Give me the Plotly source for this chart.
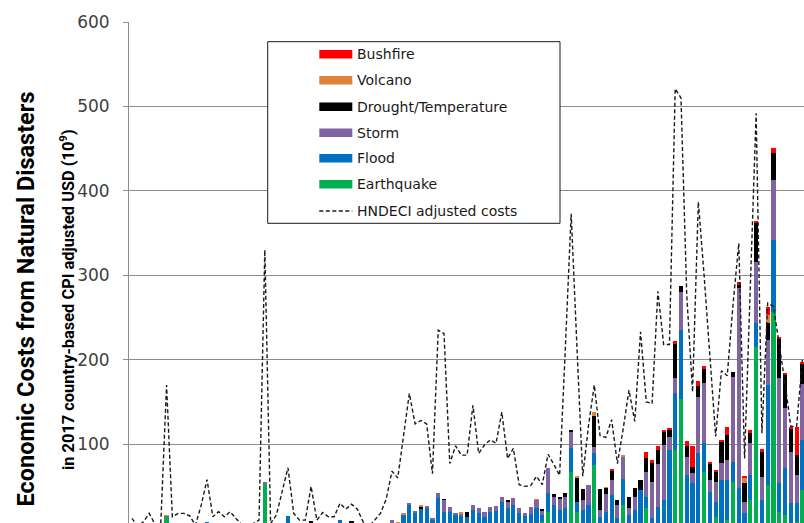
import plotly.graph_objects as go

# ---------------- data (1900-2016) ----------------
years = list(range(1900, 2017))

earthquake = [
    0, 0, 0, 0, 0, 3, 14, 2, 5, 0,            # 1900s
    0, 0, 0, 0, 0, 0, 0, 0, 0, 0,             # 1910s
    4, 0, 0, 53, 0, 0, 0, 0, 0, 0,            # 1920s
    0, 0, 0, 0, 0, 0, 0, 0, 0, 0,             # 1930s
    0, 0, 0, 0, 0, 0, 0, 0, 6, 0,             # 1940s
    0, 0, 0, 0, 0, 0, 0, 0, 0, 0,             # 1950s
    1, 0, 0, 0, 5, 0, 0, 0, 0, 0,             # 1960s
    0, 8, 20, 0, 0, 0, 67, 20, 0, 0,          # 1970s
    75, 0, 0, 0, 0, 28, 0, 0, 3, 24,          # 1980s
    0, 0, 0, 0, 93, 153, 0, 0, 0, 67.5,       # 1990s
    0, 14, 0, 10, 55.7, 0, 0, 34, 215.6, 4,   # 2000s
    52, 257, 20, 16, 0, 8, 45.8,              # 2010-2016
]

flood = [
    2, 1, 0, 2, 1, 0, 0, 0, 0, 2,
    3, 3, 0, 8, 1, 3, 2, 2, 1, 1,
    0, 2, 1, 0, 1, 2, 3, 15, 2, 2,
    2, 4, 2, 3, 3, 4, 10, 3, 4, 3,
    2, 2, 3, 4, 3, 4, 4, 17, 22, 19,
    24, 25, 11, 36, 20, 20, 17, 16, 14, 22,
    18, 14, 20, 21, 26, 24, 28, 18, 15, 17,
    24, 8, 22, 28, 22, 24, 28, 12, 22, 28,
    15, 14, 20, 40, 12, 30.5, 16, 22, 43, 14,
    12, 25, 34, 93, 67, 82, 63.6, 53.8, 89, 33.5,
    43.8, 18, 57.7, 47.7, 23.7, 47.8, 18, 29.6, 27.7, 30,
    118, 85, 33.8, 55.5, 30, 22, 59,
]

storm = [
    1, 0, 0, 0, 0, 0, 1, 0, 0, 0,
    0, 0, 2, 0, 0, 0, 0, 0, 0, 0,
    0, 0, 0, 1.5, 0, 0, 0, 0, 0, 0,
    0, 0, 0, 0, 0, 0, 0, 0, 0, 0,
    0, 0, 0, 0, 2, 6, 2, 0, 2, 2,
    0, 1, 1, 6, 14, 6, 2, 2, 0, 6,
    5, 6, 6, 6, 7, 8, 8, 6, 4, 8,
    10, 5, 30, 9, 13, 13, 20, 0, 12, 24,
    7, 8, 21, 17.7, 16, 26.5, 8, 16, 0, 29.5,
    43.7, 52, 65, 16, 18, 45.7, 21.7, 11.8, 67, 71,
    13.9, 23.7, 19.7, 23.7, 100.6, 237, 14, 37.4, 73, 27.6,
    53.5, 71, 124, 71, 61, 33.6, 67,
]

drought = [
    0, 0, 0, 0, 0, 0, 0, 0, 0, 0,
    0, 0, 0, 0, 0, 0, 0, 0, 0, 0,
    0, 0, 0, 0, 0, 0, 0, 0, 0, 0,
    0, 4.5, 0, 0, 0, 0, 0, 0, 4.5, 0,
    0, 0, 0, 0, 0, 0, 0, 0, 0, 0,
    2, 0, 0, 0, 1, 0, 0, 0, 6, 0,
    0, 0, 0, 0, 0, 2, 0, 0, 0, 0,
    0, 2, 0, 4, 3, 5, 2, 29, 12.6, 0,
    36.5, 24.5, 7.5, 11, 6, 0, 14, 10, 11, 16,
    23, 16, 16, 8, 41.6, 6.7, 12, 7.8, 12.6, 18,
    18.9, 12, 25.6, 29.6, 6, 4, 21.8, 12, 46, 29.7,
    19.5, 32.3, 47.5, 39.6, 27.7, 23.7, 24,
]

volcano = [
    0, 0, 1, 0, 0, 0, 0.5, 0, 0, 0,
    0, 0, 0, 0, 0, 0, 0, 0, 0, 0,
    0, 0, 0, 0, 0, 0, 0, 0, 0, 0,
    0, 0, 0, 0, 0, 0, 0, 0, 0, 0,
    0, 0, 0, 0, 2, 0, 1.5, 1.5, 0, 0,
    1, 0, 0, 0, 0, 0, 0, 1, 0, 0,
    0, 0, 0, 0, 0, 0, 0, 0, 0, 0,
    1, 0, 0, 0, 0, 0, 0, 1, 0, 0,
    4, 0, 0.5, 0, 0, 2.5, 0, 0, 0, 0,
    0, 0, 0, 0, 0, 0, 0, 0, 0, 0,
    0, 0, 0, 0, 0, 0, 6, 0, 0, 0,
    10, 0, 0, 0, 0, 0, 0,
]

bushfire = [
    0, 0, 0, 0, 0, 0, 0, 0, 0, 0,
    0, 0, 0, 0, 0, 0, 0, 0, 0, 0,
    0, 0, 0, 0, 0, 0, 0, 0, 0, 0,
    0, 0, 0, 0, 0, 0, 0, 0, 0, 0,
    0, 0, 0, 0, 0, 0, 0, 0, 0, 0,
    0, 0, 0, 0, 0, 0, 0, 0, 0, 0,
    0, 0, 0, 0, 0, 0, 0, 0, 0, 0,
    0, 0, 0, 0, 0, 0, 0, 0, 0, 0,
    0, 0, 0, 2, 0, 0, 0, 0, 0, 7.6,
    2, 5, 1, 2, 2, 0, 6, 24.6, 6, 2,
    2.8, 1.9, 2, 9, 0, 3, 2.6, 4, 2.4, 2.7,
    9, 5.2, 1, 2, 1, 32.7, 2,
]

hndeci = [
    12, 3, 8, 18, 5, 6, 170, 14, 18, 18,
    15, 4, 28, 58, 14, 20, 14, 20, 12, 5,
    2, 6, 10, 330, 6, 16, 43, 72, 18, 10,
    10, 50, 10, 19, 14, 14, 30, 23, 29, 23,
    8, 2, 10, 18, 35, 68, 60, 108, 160, 124,
    128, 124, 65, 235, 231, 77, 98, 87, 87, 146,
    89, 99, 105, 101, 138, 83, 95, 52, 50, 51,
    62, 52, 88, 76, 63, 215, 373, 215, 62, 122,
    170, 110, 108, 129, 77, 118, 164, 127, 233, 150,
    148, 281, 218, 218, 521, 510, 276, 162, 387, 300,
    200, 109, 187, 181, 265, 338, 83, 285, 492, 113,
    267, 263, 220, 172, 121, 121, 200,
]

series_names = ["Earthquake", "Flood", "Storm", "Drought/Temperature", "Volcano", "Bushfire"]
series_values = [earthquake, flood, storm, drought, volcano, bushfire]
series_colors = ["#00B050", "#0070C0", "#8064A2", "#000000", "#E0823A", "#FF0000"]
line_name = "HNDECI adjusted costs"
y_ticks = [100, 200, 300, 400, 500, 600]

# ---------------- geometry ----------------
W, H = 804, 523
ML, MT = 129, 22
PW, PH = W - ML, H - MT
PX_PER_YEAR = 5.78
PX_PER_UNIT = 0.8443

def px2x(px):
    return (px - ML) / PW

def py2y(py):
    return (H - py) / PH

fig = go.Figure()
for name, vals, col in zip(series_names, series_values, series_colors):
    fig.add_bar(x=years, y=vals, name=name,
                marker=dict(color=col, line=dict(width=0)))
fig.add_scatter(x=years, y=hndeci, name=line_name, mode="lines",
                line=dict(color="#1a1a1a", width=1.4, dash="4px,2.5px"))

# ---------------- custom legend ----------------
shapes = [dict(type="rect", xref="paper", yref="paper", layer="above",
               x0=px2x(267.7), x1=px2x(560), y0=py2y(223.3), y1=py2y(41.7),
               line=dict(color="#1a1a1a", width=1), fillcolor="white")]
annotations = []
legend_rows = list(zip(series_names[::-1], series_colors[::-1]))
row_y = [54.3, 80.3, 106.7, 132.7, 158.3, 184.3, 211]
for (name, col), cy in zip(legend_rows, row_y[:6]):
    shapes.append(dict(type="rect", xref="paper", yref="paper", layer="above",
                       x0=px2x(319.3), x1=px2x(352.3), y0=py2y(cy + 4.3), y1=py2y(cy - 4.3),
                       line=dict(width=0), fillcolor=col))
    annotations.append(dict(text=name, xref="paper", yref="paper", x=px2x(355), y=py2y(cy),
                            xanchor="left", yanchor="middle", showarrow=False,
                            font=dict(family="DejaVu Sans", size=14, color="#1a1a1a")))
shapes.append(dict(type="line", xref="paper", yref="paper", layer="above",
                   x0=px2x(319.3), x1=px2x(352.3), y0=py2y(row_y[6]), y1=py2y(row_y[6]),
                   line=dict(color="#1a1a1a", width=1.4, dash="4px,2.5px")))
annotations.append(dict(text=line_name, xref="paper", yref="paper", x=px2x(355), y=py2y(row_y[6]),
                        xanchor="left", yanchor="middle", showarrow=False,
                        font=dict(family="DejaVu Sans", size=14, color="#1a1a1a")))

# ---------------- axis titles ----------------
annotations.append(dict(text="<b>Economic Costs from Natural Disasters</b>", textangle=-90,
                        xref="paper", yref="paper", x=px2x(25), y=py2y(299.5),
                        xanchor="center", yanchor="middle", showarrow=False,
                        font=dict(family="Roboto", size=23.5, color="#000000")))
annotations.append(dict(text="<b>in 2017 country-based CPI adjusted USD (10<sup>9</sup>)</b>", textangle=-90,
                        xref="paper", yref="paper", x=px2x(67), y=py2y(300),
                        xanchor="center", yanchor="middle", showarrow=False,
                        font=dict(family="Roboto", size=16.4, color="#000000")))

fig.update_layout(
    width=W, height=H,
    margin=dict(l=ML, r=0, t=MT, b=0, pad=0),
    barmode="stack", bargap=0.28,
    showlegend=False,
    plot_bgcolor="white", paper_bgcolor="white",
    shapes=shapes, annotations=annotations,
    xaxis=dict(range=[1899.5, 1899.5 + PW / PX_PER_YEAR], showticklabels=False,
               showgrid=False, zeroline=False, showline=False, ticks=""),
    yaxis=dict(range=[600 - PH / PX_PER_UNIT, 600], tickvals=y_ticks,
               showgrid=True, gridcolor="#8c8c8c", gridwidth=1,
               showline=True, linecolor="#8c8c8c", linewidth=1,
               ticks="outside", ticklen=5, tickcolor="#8c8c8c",
               ticklabelstandoff=10, zeroline=False,
               tickfont=dict(family="DejaVu Sans", size=17, color="#404040")),
)

fig.write_html("out.html", config={"displayModeBar": False},
               post_script="document.body.style.margin='0';")
